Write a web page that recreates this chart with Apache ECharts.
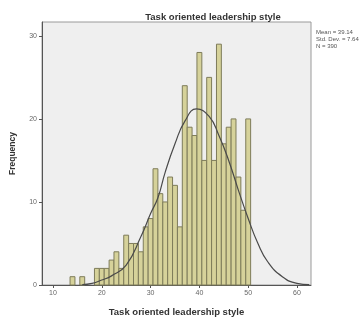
<!DOCTYPE html>
<html>
<head>
<meta charset="utf-8">
<script src="https://cdn.jsdelivr.net/npm/echarts@6/dist/echarts.min.js"></script>
<style>
  html, body { margin: 0; padding: 0; background: #fff; }
  #chart { width: 363px; height: 322px; }
</style>
</head>
<body>
<div id="chart"></div>
<script>
// histogram bins (score value, bin width 1)
var binValues = [14, 15, 16, 17, 18, 19, 20, 21, 22, 23, 24, 25, 26, 27, 28, 29, 30, 31, 32,
  33, 34, 35, 36, 37, 38, 39, 40, 41, 42, 43, 44, 45, 46, 47, 48, 49, 50];
var binCounts = [1, 0, 1, 0, 0, 2, 2, 2, 3, 4, 2, 6, 5, 5, 4, 7, 8, 14, 11,
  10, 13, 12, 7, 24, 19, 18, 28, 15, 25, 15, 29, 17, 19, 20, 13, 9, 20];

// normal curve
var curveX = [16, 18, 20, 22, 25, 28, 30, 31.5, 33, 35, 37, 39.4, 42, 44, 46, 48, 50, 52, 54, 57, 60, 62.5];
var curveY = [0.05, 0.2, 0.6, 1.1, 2.4, 5.8, 8.6, 10.5, 13.6, 17, 19.7, 21.2, 20.3, 18, 15, 11.4, 8, 5, 2.8, 1, 0.2, 0.05];

var xTicks = [10, 20, 30, 40, 50, 60];
var yTicks = [0, 10, 20, 30];
var statLines = ['Mean = 39.14', 'Std. Dev. = 7.64', 'N = 390'];

var barData = binValues.map(function (v, i) { return [v, binCounts[i]]; });
var curveData = curveX.map(function (x, i) { return [x, curveY[i]]; });

var myChart = echarts.init(document.getElementById('chart'), null, { renderer: 'canvas' });

var option = {
  animation: false,
  textStyle: { fontFamily: 'Liberation Sans' },
  title: {
    text: 'Task oriented leadership style',
    left: 208,
    top: 7,
    textAlign: 'center',
    textStyle: { fontSize: 9.5, fontWeight: 'bold', color: '#333' }
  },
  grid: {
    left: 42, top: 22, width: 269, height: 266,
    show: true,
    backgroundColor: '#efefef',
    borderColor: '#9a9a9a',
    borderWidth: 1
  },
  graphic: [{
    type: 'text',
    left: 316,
    top: 29,
    style: {
      text: statLines.join('\n'),
      fontSize: 6,
      lineHeight: 7,
      fill: '#555',
      fontFamily: 'Liberation Sans'
    }
  }],
  xAxis: {
    type: 'value',
    min: 7.75,
    max: 62.87,
    name: 'Task oriented leadership style',
    nameLocation: 'middle',
    nameGap: 22,
    nameTextStyle: { fontSize: 9.5, fontWeight: 'bold', color: '#333' },
    axisLine: { show: true, lineStyle: { color: '#555' } },
    axisTick: { show: true, length: 3, customValues: xTicks, lineStyle: { color: '#555' } },
    axisLabel: { customValues: xTicks, fontSize: 7, color: '#666', margin: 5 },
    splitLine: { show: false }
  },
  yAxis: {
    type: 'value',
    min: 0,
    max: 31.67,
    name: 'Frequency',
    nameLocation: 'middle',
    nameGap: 25,
    nameTextStyle: { fontSize: 8.5, fontWeight: 'bold', color: '#333' },
    axisLine: { show: true, lineStyle: { color: '#555' } },
    axisTick: { show: true, length: 3, customValues: yTicks, lineStyle: { color: '#555' } },
    axisLabel: { customValues: yTicks, fontSize: 7, color: '#666', margin: 5 },
    splitLine: { show: false }
  },
  series: [{
    type: 'custom',
    data: barData,
    renderItem: function (params, api) {
      var v = api.value(0);
      var c = api.value(1);
      if (!c) return null;
      var p0 = api.coord([v - 0.5, c]);
      var p1 = api.coord([v + 0.5, 0]);
      return {
        type: 'rect',
        shape: { x: p0[0], y: p0[1], width: p1[0] - p0[0], height: p1[1] - p0[1] },
        style: { fill: '#d6d29a', stroke: '#7e7c5a', lineWidth: 1 }
      };
    },
    z: 2
  }, {
    type: 'line',
    data: curveData,
    smooth: true,
    showSymbol: false,
    lineStyle: { color: '#4a4a4a', width: 1.2 },
    z: 3
  }]
};

myChart.setOption(option);
</script>
</body>
</html>
